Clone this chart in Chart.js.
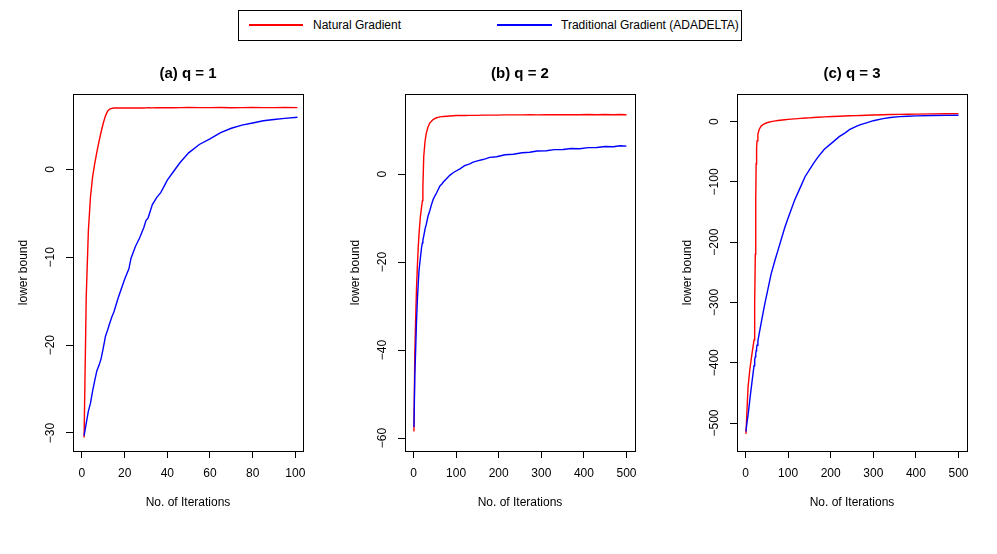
<!DOCTYPE html>
<html>
<head>
<meta charset="utf-8">
<script src="https://cdn.jsdelivr.net/npm/chart.js@4.4.1/dist/chart.umd.min.js"></script>
<style>
  body { margin: 0; background: #fff; width: 997px; height: 554px; position: relative; overflow: hidden;
         font-family: "Liberation Sans", Arial, sans-serif; color: #000; }
  canvas { position: absolute; top: 0; }
  #legend { position: absolute; left: 238px; top: 10px; width: 504px; height: 31px; box-sizing: border-box; border: 1px solid #000; }
  #legend .key { position: absolute; top: 13px; height: 2px; }
  #legend .txt { position: absolute; top: 7px; font-size: 12px; line-height: 14px; white-space: nowrap; }
</style>
</head>
<body>
<div id="legend">
  <div class="key" style="left:10px;width:54px;background:#ff0000"></div>
  <div class="txt" style="left:74px">Natural Gradient</div>
  <div class="key" style="left:258px;width:55px;background:#0000ff"></div>
  <div class="txt" style="left:322px">Traditional Gradient (ADADELTA)</div>
</div>
<canvas id="pa" width="332" height="554" style="left:0px"></canvas>
<canvas id="pb" width="332" height="554" style="left:332px"></canvas>
<canvas id="pc" width="332" height="554" style="left:664px"></canvas>
<script>
// (a) q = 1
const iterA = [1,2,3,4,5,6,7,8,9,10,11,12,13,14,15,17,20,22,23,25,27,29,30,31,33,35,37,40,43,46,50,55,60,65,70,75,80,85,90,95,101];
const naturalA = [-30.5,-14.5,-7.0,-3.1,-0.8,0.7,2.0,3.2,4.3,5.3,6.1,6.65,6.88,6.97,7.0,7.0,7.01,7.0,7.0,7.02,7.01,7.0,7.02,7.03,7.02,7.04,7.03,7.05,7.04,7.05,7.06,7.05,7.05,7.06,7.04,7.05,7.06,7.05,7.05,7.06,7.05];
const adadeltaA = [-30.3,-28.9,-27.5,-26.6,-25.2,-24.0,-22.9,-22.3,-21.5,-20.3,-19.0,-18.3,-17.5,-16.8,-16.2,-14.6,-12.5,-11.3,-10.1,-8.8,-7.8,-6.6,-5.8,-5.5,-4.0,-3.2,-2.6,-1.2,-0.2,0.8,1.9,2.85,3.5,4.2,4.7,5.05,5.3,5.55,5.7,5.82,5.95];
const xTicksA = [0,20,40,60,80,100];
const yTicksA = [-30,-20,-10,0];

// (b) q = 2
const iterB = [1,3,5,7,9,11,13,16,19,21,22,24,27,30,34,38,42,46,50,54,58,62,66,70,78,85,93,100,109,120,132,140,150,163,179,195,215,234,255,273,290,312,330,351,370,390,410,430,450,469,485,500];
const naturalB = [-58.5,-41,-33,-26,-21,-16.8,-13.5,-9.8,-7.4,-6.0,-3.0,4.0,7.4,9.3,10.7,11.6,12.0,12.4,12.6,12.8,12.9,13.0,13.05,13.1,13.15,13.2,13.25,13.3,13.3,13.3,13.35,13.35,13.35,13.4,13.4,13.4,13.45,13.45,13.45,13.5,13.45,13.5,13.5,13.5,13.5,13.5,13.55,13.5,13.55,13.5,13.55,13.5];
const adadeltaB = [-57.5,-46,-40,-33.5,-28.7,-25,-21.8,-19.2,-16.6,-15.6,-15.0,-14.1,-12.5,-11.4,-9.6,-8.4,-7.0,-5.8,-5.0,-4.3,-3.5,-2.7,-2.3,-1.8,-1.0,-0.3,0.3,0.7,1.2,1.9,2.3,2.7,3.0,3.3,3.8,3.95,4.4,4.5,4.85,4.95,5.25,5.3,5.55,5.6,5.8,5.75,6.0,6.05,6.25,6.2,6.45,6.35];
const xTicksB = [0,100,200,300,400,500];
const yTicksB = [-60,-40,-20,0];

// (c) q = 3
const iterC = [1,4,6,10,15,20,21,22,23,24,25,26,27,29,32,37,45,52,60,70,76,92,100,115,130,140,150,160,170,185,205,220,233,245,260,270,284,300,323,340,362,380,400,440,470,500];
const naturalC = [-518,-470,-440,-412,-386,-362,-348,-300,-220,-130,-70,-45,-32,-21,-13,-7,-3.5,-1.5,0,1.2,1.8,3.2,3.7,4.6,5.4,5.9,6.2,6.8,7.2,7.8,8.5,9.0,9.4,9.7,10.0,10.2,10.6,11,11.4,11.7,12,12.2,12.4,12.8,13.0,13.3];
const adadeltaC = [-514,-496,-487,-462,-433,-405,-400,-395,-390,-385,-380,-376,-371,-364,-352,-333,-303,-280,-253,-228,-214,-176,-160,-131,-107,-91,-80,-69,-59,-46,-34,-25,-19,-13,-8,-5,-2,1.5,5,6.8,8.3,9,9.5,10.1,10.3,10.5];
const xTicksC = [0,100,200,300,400,500];
const yTicksC = [-500,-400,-300,-200,-100,0];

const FONT = '"Liberation Sans", Arial, sans-serif';
Chart.defaults.font.family = FONT;
Chart.defaults.color = '#000';

const fmt = v => v < 0 ? '\u2212' + Math.abs(v) : String(v);

// R-style frame: box round the plot, rotated y labels, bold title
const rFrame = {
  id: 'rFrame',
  afterDraw(chart, args, opts) {
    const {ctx, chartArea: a} = chart;
    const ys = chart.scales.y;
    ctx.save();
    ctx.strokeStyle = '#000';
    ctx.lineWidth = 1;
    ctx.strokeRect(Math.round(a.left) + 0.5, Math.round(a.top) + 0.5,
                   Math.round(a.right - a.left), Math.round(a.bottom - a.top));
    ctx.fillStyle = '#000';
    ctx.font = '12px ' + FONT;
    ctx.textAlign = 'center';
    ctx.textBaseline = 'middle';
    ys.ticks.forEach(t => {
      ctx.save();
      ctx.translate(a.left - 22, ys.getPixelForValue(t.value));
      ctx.rotate(-Math.PI / 2);
      ctx.fillText(fmt(t.value), 0, 0);
      ctx.restore();
    });
    ctx.font = 'bold 15px ' + FONT;
    ctx.fillText(opts.text, (a.left + a.right) / 2, 73.5);
    ctx.restore();
  }
};

function makeChart(id, title, iters, natural, adadelta, xr, yr, xTicks, yTicks) {
  const pts = vals => iters.map((x, i) => ({x: x, y: vals[i]}));
  new Chart(document.getElementById(id), {
    type: 'scatter',
    data: {
      datasets: [
        { label: 'Natural Gradient', data: pts(natural), showLine: true, borderColor: '#ff0000',
          borderWidth: 1.4, pointRadius: 0, tension: 0, order: 1 },
        { label: 'Traditional Gradient (ADADELTA)', data: pts(adadelta), showLine: true, borderColor: '#0000ff',
          borderWidth: 1.4, pointRadius: 0, tension: 0, order: 0 }
      ]
    },
    options: {
      responsive: false,
      animation: false,
      devicePixelRatio: 1,
      layout: { padding: { left: 0, right: 29, top: 94, bottom: 0 } },
      plugins: { legend: { display: false }, tooltip: { enabled: false }, rFrame: { text: title } },
      scales: {
        x: {
          type: 'linear', min: xr[0], max: xr[1],
          afterBuildTicks: s => { s.ticks = xTicks.map(v => ({value: v})); },
          afterFit: s => { s.height = 103; },
          grid: { drawOnChartArea: false, tickLength: 7, color: '#000' },
          border: { display: false },
          ticks: { padding: 8, font: { size: 12 }, color: '#000', maxRotation: 0, autoSkip: false, callback: v => fmt(v) },
          title: { display: true, text: 'No. of Iterations', font: { size: 12 }, color: '#000', padding: { top: 0, bottom: 44 } }
        },
        y: {
          type: 'linear', min: yr[0], max: yr[1],
          afterBuildTicks: s => { s.ticks = yTicks.map(v => ({value: v})); },
          afterFit: s => { s.width = 73; },
          grid: { drawOnChartArea: false, tickLength: 7, color: '#000' },
          border: { display: false },
          ticks: { display: false },
          title: { display: true, text: 'lower bound', font: { size: 12 }, color: '#000', padding: { top: 16, bottom: 0 } }
        }
      }
    },
    plugins: [rFrame]
  });
}

makeChart('pa', '(a) q = 1', iterA, naturalA, adadeltaA, [-4.2, 103.6], [-32.05, 8.6], xTicksA, yTicksA);
makeChart('pb', '(b) q = 2', iterB, naturalB, adadeltaB, [-20, 520], [-62.95, 18.2], xTicksB, yTicksB);
makeChart('pc', '(c) q = 3', iterC, naturalC, adadeltaC, [-20, 520], [-546.4, 45.8], xTicksC, yTicksC);
</script>
</body>
</html>
